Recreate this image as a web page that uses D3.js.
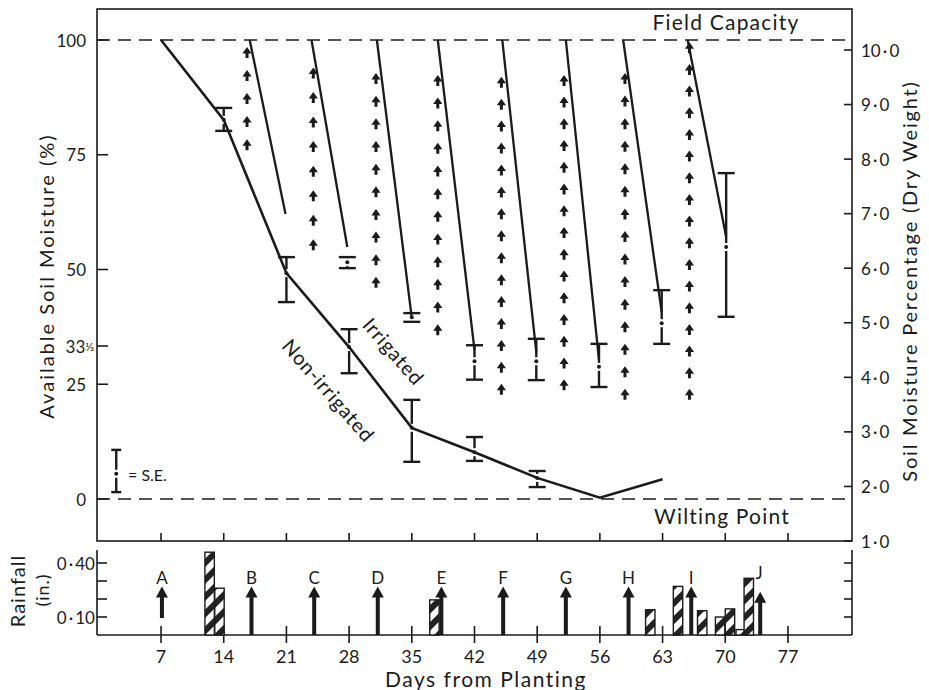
<!DOCTYPE html>
<html>
<head>
<meta charset="utf-8">
<script src="https://cdn.jsdelivr.net/npm/d3@7"></script>
<style>
	body { margin: 0; background: #fff; }
	svg { display: block; }
	text { font-family: Lato, 'DejaVu Sans', sans-serif; fill: #1b1b1b; }
</style>
</head>
<body>
<div id="chart"></div>
<script>
// Non-irrigated plot (available soil moisture, %)
const nonIrrDays = [7, 14, 21, 28, 35, 42, 49, 56, 63];
const nonIrrMean = [100, 82.6, 49.2, 33.1, 15.5, 10.2, 4.6, 0.3, 4.3];
const nonIrrLow = [null, 80.2, 42.9, 27.4, 8.1, 8.3, 2.6, null, null];
const nonIrrHigh = [null, 85.2, 52.7, 37.0, 21.6, 13.5, 6.1, null, null];

// Irrigated plot: drying runs after each watering
const irrStartDay = [16.9, 23.8, 31.1, 37.9, 45.1, 52.2, 58.6, 65.8];
const irrEndDay = [20.9, 27.8, 35.0, 42.0, 48.9, 55.9, 62.9, 70.1];
const irrEndValue = [62.1, 54.9, 39.4, 32.5, 32.0, 30.3, 40.7, 57.1];
const irrMean = [null, 51.6, 39.6, 30.0, 30.0, 28.8, 38.3, 54.9];
const irrLow = [null, 50.3, 38.6, 26.0, 25.9, 24.4, 33.8, 39.7];
const irrHigh = [null, 52.7, 40.5, 33.5, 34.9, 33.8, 45.5, 71.0];

// Water applied (columns of small arrows), from / to level in %
const waterDay = [16.6, 24.0, 31.0, 37.9, 45.0, 52.0, 58.8, 66.0];
const waterFrom = [76.0, 54.2, 46.0, 35.7, 22.7, 23.7, 21.6, 21.6];
const waterTo = [98.5, 94.0, 92.8, 92.4, 92.0, 92.4, 92.8, 99.5];

// Rainfall panel
const rainDay = [11.9, 13.0, 37.0, 61.1, 64.2, 66.9, 68.9, 70.0, 71.2, 72.1];
const rainInches = [0.46, 0.26, 0.195, 0.14, 0.27, 0.135, 0.10, 0.145, 0.03, 0.315];
const irrLabels = ['A', 'B', 'C', 'D', 'E', 'F', 'G', 'H', 'I', 'J'];
const irrDays = [7.1, 17.1, 24.1, 31.2, 38.3, 45.2, 52.2, 59.2, 66.2, 73.9];
const irrBase = [0.095, 0, 0, 0, 0, 0, 0, 0, 0, 0];
const irrTip = [0.27, 0.27, 0.27, 0.27, 0.27, 0.27, 0.27, 0.27, 0.27, 0.24];

// Ticks
const dayTicks = [7, 14, 21, 28, 35, 42, 49, 56, 63, 70, 77];
const leftTicks = [0, 25, 100 / 3, 50, 75, 100];
const rightTicks = [1, 2, 3, 4, 5, 6, 7, 8, 9, 10];
const rainTicks = [0.1, 0.2, 0.3, 0.4];
const rainTickLabels = [0.1, 0.4];

const width = 929;
const height = 690;
const left = 97;
const right = 852;
const mainTop = 9;
const mainBottom = 541;
const rainTop = 550;
const rainBottom = 635;

const svg = d3.select('#chart')
	.append('svg')
	.attr('width', width)
	.attr('height', height)
	.attr('viewBox', [0, 0, width, height]);

const x = d3.scaleLinear().domain([-0.15, 84.15]).range([left, right]);
const y = d3.scaleLinear().domain([0, 100]).range([499, 40]);
const yRight = d3.scaleLinear().domain([1, 10]).range([541, 50]);
const yRain = d3.scaleLinear().domain([0, 0.1]).range([rainBottom, 617]);

const ink = '#1b1b1b';
const fmtDot = (v, n) => v.toFixed(n).replace('.', '\u2009\u00b7\u2009');

// hatch for rainfall bars
svg.append('defs')
	.append('pattern')
	.attr('id', 'hatch')
	.attr('patternUnits', 'userSpaceOnUse')
	.attr('width', 12)
	.attr('height', 12)
	.attr('patternTransform', 'rotate(-45)')
	.call((p) => {
		p.append('rect').attr('width', 12).attr('height', 12).attr('fill', '#fff');
		p.append('rect').attr('width', 12).attr('height', 6).attr('fill', '#222');
	});

// ---- Main panel frame
svg.append('rect')
	.attr('x', left).attr('y', mainTop)
	.attr('width', right - left).attr('height', mainBottom - mainTop)
	.attr('fill', 'none').attr('stroke', ink).attr('stroke-width', 1.6);

// left axis
const gLeft = svg.append('g').attr('transform', `translate(${left},0)`);
gLeft.selectAll('line').data(leftTicks).enter().append('line')
	.attr('x1', 0).attr('x2', 11)
	.attr('y1', (d) => y(d)).attr('y2', (d) => y(d))
	.attr('stroke', ink).attr('stroke-width', 1.6);
gLeft.selectAll('text').data(leftTicks).enter().append('text')
	.attr('x', -11).attr('y', (d) => y(d))
	.attr('text-anchor', 'end')
	.attr('dominant-baseline', 'central')
	.style('font-size', '17px')
	.each(function (d) {
		const t = d3.select(this);
		if (Math.abs(d - 100 / 3) < 0.01) {
			t.attr('x', -3).text('33');
			t.append('tspan').style('font-size', '12px').text('\u2153');
		} else {
			t.text(d);
		}
	});

// right axis
const gRight = svg.append('g').attr('transform', `translate(${right},0)`);
gRight.selectAll('line').data(rightTicks).enter().append('line')
	.attr('x1', -8).attr('x2', 0)
	.attr('y1', (d) => yRight(d)).attr('y2', (d) => yRight(d))
	.attr('stroke', ink).attr('stroke-width', 1.6);
gRight.selectAll('text').data(rightTicks).enter().append('text')
	.attr('x', 9).attr('y', (d) => yRight(d))
	.attr('dominant-baseline', 'central')
	.style('font-size', '17px')
	.text((d) => fmtDot(d, 1));

// x ticks at the bottom of the main panel
svg.append('g').selectAll('line').data(dayTicks).enter().append('line')
	.attr('x1', (d) => x(d)).attr('x2', (d) => x(d))
	.attr('y1', mainBottom).attr('y2', mainBottom - 8)
	.attr('stroke', ink).attr('stroke-width', 1.6);

// field capacity / wilting point
[100, 0].forEach((v) => {
	svg.append('line')
		.attr('x1', left).attr('x2', right)
		.attr('y1', y(v)).attr('y2', y(v))
		.attr('stroke', ink).attr('stroke-width', 1.6)
		.attr('stroke-dasharray', '13,8');
});
svg.append('text').attr('x', 726).attr('y', 30)
	.attr('text-anchor', 'middle').style('font-size', '21px')
	.style('letter-spacing', '1.2px').text('Field Capacity');
svg.append('text').attr('x', 722).attr('y', 524)
	.attr('text-anchor', 'middle').style('font-size', '21px')
	.style('letter-spacing', '1.2px').text('Wilting Point');

// axis titles
svg.append('text')
	.attr('transform', 'translate(54,276) rotate(-90)')
	.attr('text-anchor', 'middle').style('font-size', '20px')
	.style('letter-spacing', '2px').text('Available Soil Moisture (%)');
svg.append('text')
	.attr('transform', 'translate(917,281) rotate(-90)')
	.attr('text-anchor', 'middle').style('font-size', '20px')
	.style('letter-spacing', '1.8px').text('Soil Moisture Percentage (Dry Weight)');

// ---- error bar helper
function errorBar(g, day, mean, low, high, capW) {
	const cx = x(day);
	const ym = y(mean);
	const yl = y(low);
	const yh = y(high);
	const gap = 4;
	const seg = (x1, y1, x2, y2) => g.append('line')
		.attr('x1', x1).attr('y1', y1).attr('x2', x2).attr('y2', y2)
		.attr('stroke', ink).attr('stroke-width', 2.4);
	seg(cx - capW / 2, yh, cx + capW / 2, yh);
	seg(cx - capW / 2, yl, cx + capW / 2, yl);
	if (ym - gap > yh) seg(cx, yh, cx, ym - gap);
	if (ym + gap < yl) seg(cx, ym + gap, cx, yl);
	g.append('circle').attr('cx', cx).attr('cy', ym).attr('r', 2).attr('fill', ink);
}

// ---- non-irrigated
const nonIrr = nonIrrDays.map((d, i) => ({ day: d, mean: nonIrrMean[i], low: nonIrrLow[i], high: nonIrrHigh[i] }));
const line = d3.line().x((d) => x(d.day)).y((d) => y(d.mean));
svg.append('path')
	.datum(nonIrr)
	.attr('d', line)
	.attr('fill', 'none').attr('stroke', ink).attr('stroke-width', 2.6);
const gEb = svg.append('g');
nonIrr.filter((d) => d.low != null).forEach((d) => errorBar(gEb, d.day, d.mean, d.low, d.high, 17));

// ---- irrigated runs
irrStartDay.forEach((s, i) => {
	svg.append('line')
		.attr('x1', x(s)).attr('y1', y(100))
		.attr('x2', x(irrEndDay[i])).attr('y2', y(irrEndValue[i]))
		.attr('stroke', ink).attr('stroke-width', 2.3);
	if (irrMean[i] != null) errorBar(gEb, irrEndDay[i], irrMean[i], irrLow[i], irrHigh[i], 17);
});

// ---- water applied: columns of small arrows
const arrowH = 11;
const smallArrow = 'M0,0 L4.6,6.5 L1.5,6.5 L1.5,11 L-1.5,11 L-1.5,6.5 L-4.6,6.5 Z';
waterDay.forEach((d, i) => {
	const top = y(waterTo[i]);
	const bottom = y(waterFrom[i]);
	const n = Math.floor((bottom - top - arrowH) / 21.5) + 1;
	const step = n > 1 ? (bottom - arrowH - top) / (n - 1) : 0;
	svg.append('g').selectAll('path').data(d3.range(n)).enter().append('path')
		.attr('d', smallArrow)
		.attr('transform', (k) => `translate(${x(d)},${top + k * step})`)
		.attr('fill', ink);
});

// S.E. key
errorBar(svg, 2.0, 5.5, 1.5, 10.7, 10);
svg.append('text').attr('x', 128).attr('y', 474)
	.attr('dominant-baseline', 'central').style('font-size', '16px').text('= S.E.');

// ---- Non-irrigated / Irrigated labels
svg.append('text')
	.attr('transform', 'translate(394,351) rotate(49)')
	.attr('text-anchor', 'middle').attr('dominant-baseline', 'central')
	.style('font-size', '20px').style('letter-spacing', '0.8px').text('Irrigated');
svg.append('text')
	.attr('transform', 'translate(329,390) rotate(49)')
	.attr('text-anchor', 'middle').attr('dominant-baseline', 'central')
	.style('font-size', '20px').style('letter-spacing', '0.8px').text('Non-irrigated');

// ---- Rainfall panel
const axisStroke = (sel) => sel.attr('stroke', ink).attr('stroke-width', 1.6);
svg.append('line').attr('x1', left).attr('x2', left).attr('y1', rainTop).attr('y2', rainBottom).call(axisStroke);
svg.append('line').attr('x1', right).attr('x2', right).attr('y1', rainTop).attr('y2', rainBottom).call(axisStroke);
svg.append('line').attr('x1', left).attr('x2', right).attr('y1', rainBottom).attr('y2', rainBottom).call(axisStroke);

svg.append('g').selectAll('line').data(rainTicks).enter().append('line')
	.attr('x1', left).attr('x2', left + 10)
	.attr('y1', (d) => yRain(d)).attr('y2', (d) => yRain(d)).call(axisStroke);
svg.append('g').selectAll('line').data(rainTicks).enter().append('line')
	.attr('x1', right - 8).attr('x2', right)
	.attr('y1', (d) => yRain(d)).attr('y2', (d) => yRain(d)).call(axisStroke);
svg.append('g').selectAll('text').data(rainTickLabels).enter().append('text')
	.attr('x', left - 2).attr('y', (d) => yRain(d))
	.attr('text-anchor', 'end').attr('dominant-baseline', 'central')
	.style('font-size', '17px').text((d) => fmtDot(d, 2));

svg.append('g').selectAll('line').data(dayTicks).enter().append('line')
	.attr('x1', (d) => x(d)).attr('x2', (d) => x(d))
	.attr('y1', rainBottom - 9).attr('y2', rainBottom + 8).call(axisStroke);
svg.append('g').selectAll('text').data(dayTicks).enter().append('text')
	.attr('x', (d) => x(d)).attr('y', 656)
	.attr('text-anchor', 'middle').attr('dominant-baseline', 'central')
	.style('font-size', '18px').text((d) => d);

svg.append('text').attr('x', 486).attr('y', 687)
	.attr('text-anchor', 'middle').style('font-size', '21px')
	.style('letter-spacing', '1.5px').text('Days from Planting');

svg.append('text')
	.attr('transform', 'translate(25,591) rotate(-90)')
	.attr('text-anchor', 'middle').style('font-size', '20px')
	.style('letter-spacing', '1px').text('Rainfall');
svg.append('text')
	.attr('transform', 'translate(49,590) rotate(-90)')
	.attr('text-anchor', 'middle').style('font-size', '18px')
	.style('letter-spacing', '1px').text('(in.)');

// rainfall bars
const barW = x(1.05) - x(0);
svg.append('g').selectAll('rect').data(rainDay).enter().append('rect')
	.attr('x', (d) => x(d))
	.attr('y', (d, i) => yRain(rainInches[i]))
	.attr('width', barW)
	.attr('height', (d, i) => yRain(0) - yRain(rainInches[i]))
	.attr('fill', 'url(#hatch)')
	.attr('stroke', ink).attr('stroke-width', 1.4);

// irrigation arrows and letters
irrDays.forEach((d, i) => {
	const cx = x(d);
	const yt = yRain(irrTip[i]);
	const yb = yRain(irrBase[i]);
	svg.append('path')
		.attr('d', `M${cx},${yt} L${cx + 6},${yt + 11} L${cx + 2},${yt + 11} L${cx + 2},${yb} L${cx - 2},${yb} L${cx - 2},${yt + 11} L${cx - 6},${yt + 11} Z`)
		.attr('fill', ink);
	svg.append('text')
		.attr('x', i === 9 ? cx - 1 : cx).attr('y', i === 9 ? yRain(0.35) : yRain(0.32))
		.attr('text-anchor', 'middle').attr('dominant-baseline', 'central')
		.style('font-size', '17px').text(irrLabels[i]);
});
</script>
</body>
</html>
